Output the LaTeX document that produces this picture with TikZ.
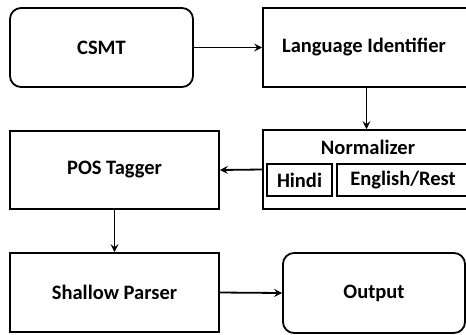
\documentclass[tikz,border=0pt]{standalone}
\usepackage{fontspec}
\setmainfont{Carlito}
\usetikzlibrary{arrows.meta}
\begin{document}
\begin{tikzpicture}[x=1bp,y=-1bp,
  every node/.style={font=\fontsize{20.5bp}{24bp}\selectfont\bfseries, inner sep=0pt},
  box/.style={draw, line width=1.8bp, rectangle},
  rbox/.style={box, rounded corners=11bp},
  conn/.style={line width=1.8bp, -{Stealth[length=8bp,width=8bp,inset=3bp]}}]
\clip (0,0) rectangle (466,334);
\fill[white] (0,0) rectangle (466,334);
\node[rbox, minimum width=183bp, minimum height=79bp] (csmt) at (101.5,47.5) {CSMT};
\node[box, minimum width=207bp, minimum height=79bp] (li) at (366.5,47.5) {};
\node (lit) at (364,47.5) {Language Identifier};
\node[box, minimum width=207bp, minimum height=79bp] (norm) at (366.5,169.5) {};
\node (normt) at (368,147) {Normalizer};
\node[box, minimum width=65bp, minimum height=32bp] (hindi) at (299.5,180) {Hindi};
\node[box, minimum width=133bp, minimum height=32bp] (eng) at (403.5,180) {};
\node (engt) at (403,180) {English/Rest};
\node[box, minimum width=209bp, minimum height=78bp] (pos) at (114.5,170) {POS Tagger};
\node[box, minimum width=209bp, minimum height=79bp] (sp) at (114.5,292.5) {Shallow Parser};
\node[rbox, minimum width=182bp, minimum height=80bp] (out) at (374,293) {Output};
\draw[conn] (csmt.east) -- (li.west);
\draw[conn] (li.south) -- (norm.north);
\draw[conn] (norm.west) -- (pos.east);
\draw[conn] (pos.south) -- (sp.north);
\draw[conn] (sp.east) -- (out.west);
\end{tikzpicture}
\end{document}
